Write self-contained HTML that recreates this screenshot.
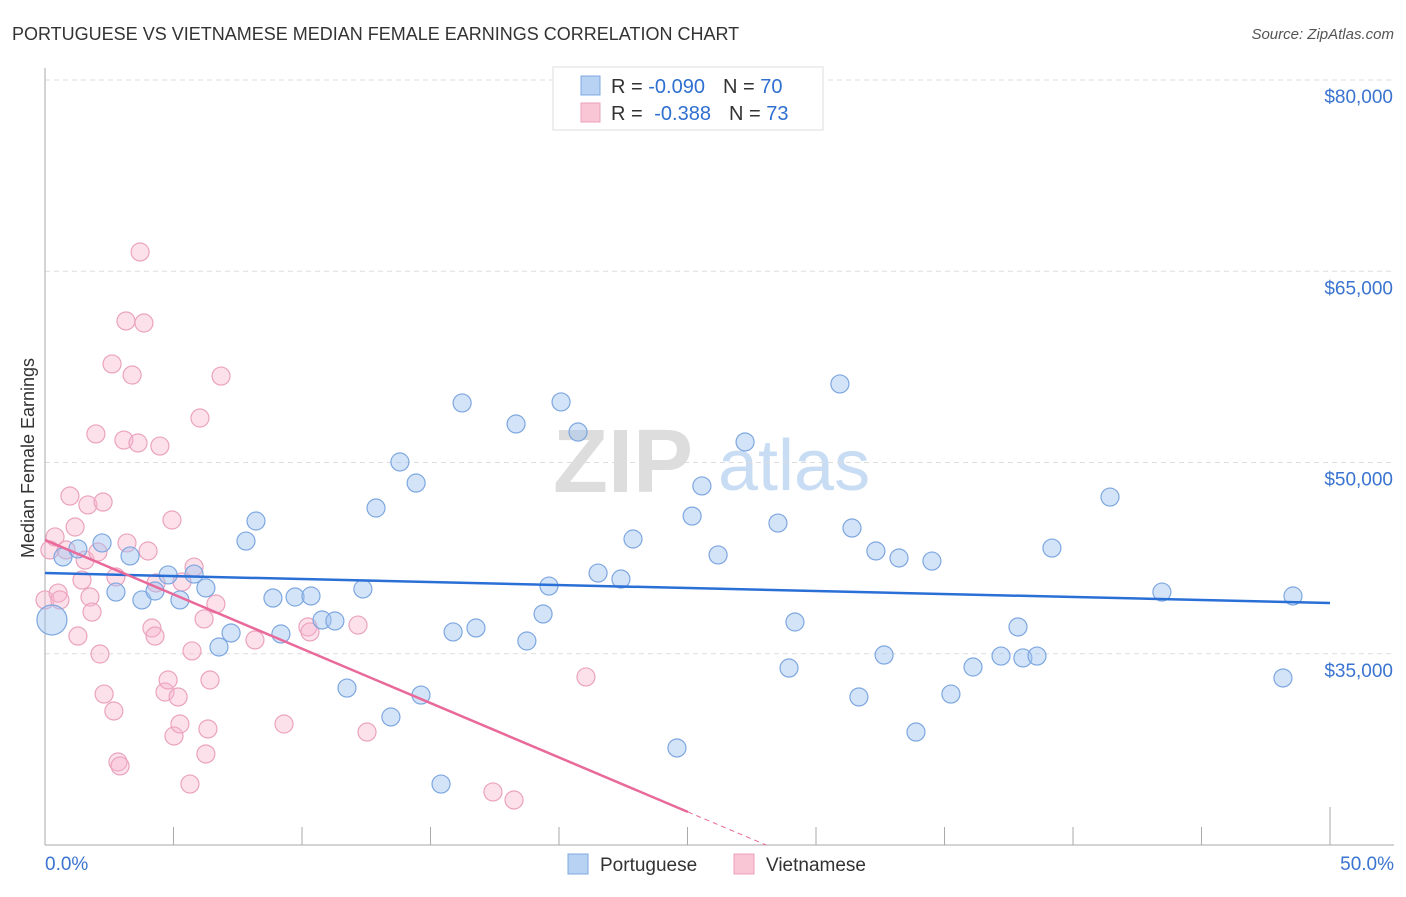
<!DOCTYPE html>
<html><head><meta charset="utf-8"><style>
body{margin:0;background:#fff;font-family:"Liberation Sans",sans-serif;}
svg text{font-family:"Liberation Sans",sans-serif;}
</style></head><body>
<svg id="chart" width="1406" height="892" xmlns="http://www.w3.org/2000/svg">
<text x="12" y="40" font-size="18" fill="#333">PORTUGUESE VS VIETNAMESE MEDIAN FEMALE EARNINGS CORRELATION CHART</text>
<text x="1394" y="39" font-size="15" fill="#555" text-anchor="end" font-style="italic">Source: ZipAtlas.com</text>
<g>
<text x="553" y="492" font-size="90" fill="#ddd" font-family="Liberation Serif" font-weight="bold">ZIP</text>
<text x="718" y="490" font-size="72" fill="#c8dcf4">atlas</text>
</g>
<g id="grid"></g><g id="axes"></g><g id="pts"></g><g id="trends"></g>
<text transform="translate(34,458) rotate(-90)" font-size="18" fill="#333" text-anchor="middle">Median Female Earnings</text>
<g>
<rect x="553" y="67" width="270" height="63" fill="#fff" stroke="#ddd"/>
<rect x="581" y="76" width="19" height="19" fill="#b8d2f4" stroke="#7fa8e0"/>
<rect x="581" y="103" width="19" height="19" fill="#f9c6d6" stroke="#eaa0bb"/>
<text x="611" y="93" font-size="20" fill="#333">R = <tspan fill="#2f6fd0">-0.090</tspan><tspan dx="18">N = </tspan><tspan fill="#2f6fd0">70</tspan></text>
<text x="611" y="120" font-size="20" fill="#333">R = <tspan dx="6" fill="#2f6fd0">-0.388</tspan><tspan dx="18">N = </tspan><tspan fill="#2f6fd0">73</tspan></text>
</g>
<g>
<rect x="568" y="854" width="20" height="20" fill="#b8d2f4" stroke="#7fa8e0"/>
<text x="600" y="871" font-size="19" fill="#333">Portuguese</text>
<rect x="734" y="854" width="20" height="20" fill="#f9c6d6" stroke="#eaa0bb"/>
<text x="766" y="871" font-size="19" fill="#333">Vietnamese</text>
</g>
</svg>
<script>
const yTicks=[35000,50000,65000,80000];
const yTickLabels=["$35,000","$50,000","$65,000","$80,000"];
const xTickLabels=["0.0%","50.0%"];
const portX=[0.27,0.70,1.28,2.22,2.76,3.31,3.77,4.28,4.79,5.25,5.80,6.26,6.77,7.24,7.82,8.21,8.87,9.18,9.73,10.35,10.78,11.28,11.75,12.37,12.88,13.46,13.81,14.44,14.63,15.41,15.88,16.23,16.77,18.33,18.75,19.38,19.61,20.08,20.74,21.52,22.41,22.88,24.59,25.18,25.56,26.19,27.24,28.52,28.95,29.18,30.93,31.4,31.67,32.33,32.65,33.23,33.89,34.51,35.25,36.11,37.2,37.86,38.05,38.6,39.18,41.44,43.46,48.17,48.56];
const portY=[37.65,42.59,43.22,43.69,39.84,42.67,39.22,39.92,41.18,39.22,41.25,40.16,35.53,36.63,43.84,45.41,39.37,36.55,39.45,39.53,37.65,37.57,32.31,40.08,46.43,30.04,50.04,48.39,31.76,24.78,36.71,54.67,37.02,53.02,36.0,38.12,40.31,54.75,52.39,41.33,40.86,44.0,27.61,45.8,48.16,42.75,51.61,45.25,33.88,37.49,56.16,44.86,31.61,43.06,34.9,42.51,28.86,42.27,31.84,33.96,34.82,37.1,34.67,34.82,43.29,47.29,39.84,33.1,39.53];
const vietX=[0,0.19,0.39,0.51,0.58,0.82,0.97,1.17,1.28,1.44,1.56,1.67,1.75,1.83,1.98,2.06,2.14,2.26,2.30,2.61,2.68,2.76,2.84,2.92,3.07,3.15,3.19,3.39,3.62,3.70,3.85,4.01,4.16,4.28,4.32,4.47,4.67,4.79,4.94,5.02,5.18,5.25,5.33,5.64,5.72,5.80,6.03,6.19,6.26,6.34,6.42,6.65,6.85,8.17,9.30,10.23,10.31,12.18,12.53,17.43,18.25,21.05];
const vietY=[39.22,43.14,44.16,39.76,39.22,43.14,47.37,44.94,36.39,40.78,42.35,46.67,39.45,38.27,52.24,42.98,34.98,46.9,31.84,57.73,30.51,41.02,26.51,26.2,51.76,61.1,43.69,56.86,51.53,66.51,60.94,43.06,37.02,36.39,40.55,51.29,32.0,32.94,45.49,28.55,31.61,29.49,40.63,24.78,35.22,41.8,53.49,37.73,27.14,29.1,32.94,38.9,56.78,36.08,29.49,37.1,36.71,37.25,28.86,24.16,23.53,33.18];
const portTrend=[41.33,38.98];
const vietTrend=[43.92,-0.8525];
const NS="http://www.w3.org/2000/svg";
const X=v=>45+v*25.7, Y=v=>845-(v-20000)*0.01275;
function mk(t,a,p){const e=document.createElementNS(NS,t);for(const k in a)e.setAttribute(k,a[k]);document.getElementById(p).appendChild(e);return e;}
yTicks.forEach((t,i)=>{
 const l=mk('line',{x1:45,x2:1394,y1:Y(t),y2:Y(t),stroke:'#ddd','stroke-dasharray':'5,4'},'grid');
 
 
 const tx=mk('text',{x:1393,y:Y(t)+23,'font-size':19,fill:'#3a74d0','text-anchor':'end'},'axes');
 tx.textContent=yTickLabels[i];
 
 
});
const ax=mk('line',{x1:45,x2:45,y1:68,y2:845,stroke:'#aaa'},'axes');


const bx=mk('line',{x1:45,x2:1394,y1:845,y2:845,stroke:'#aaa'},'axes');


for(let i=0;i<=10;i++){
 const tk=mk('line',{x1:X(i*5),x2:X(i*5),y1:i==10?807:827,y2:845,stroke:'#aaa'},'axes');
 
 
}
[[0,'start',45],[50,'end',1394]].forEach((d,i)=>{
 const tx=mk('text',{x:d[2],y:870,'font-size':19,fill:'#3a74d0','text-anchor':d[1]},'axes');
 tx.textContent=xTickLabels[i];
 
 
});
vietX.forEach((x,i)=>{
 const c=mk('circle',{cx:X(x),cy:Y(vietY[i]*1000),r:9,fill:'rgba(248,180,205,0.4)',stroke:'#eba3bd','stroke-width':1.2},'pts');
 
 
});
portX.forEach((x,i)=>{
 const c=mk('circle',{cx:X(x),cy:Y(portY[i]*1000),r:i==0?15:9,fill:'rgba(160,195,240,0.45)',stroke:'#7ea7e0','stroke-width':1.2},'pts');
 
 
});
const pl=mk('line',{x1:X(0),y1:Y(portTrend[0]*1000),x2:X(50),y2:Y(portTrend[1]*1000),stroke:'#2a6fd6','stroke-width':2.5},'trends');


const vEnd=25.02, vZero=(vietTrend[0]-20)/-vietTrend[1];
const vl=mk('line',{x1:X(0),y1:Y(vietTrend[0]*1000),x2:X(vEnd),y2:Y((vietTrend[0]+vietTrend[1]*vEnd)*1000),stroke:'#e8699a','stroke-width':2.5},'trends');


const vd=mk('line',{x1:X(vEnd),y1:Y((vietTrend[0]+vietTrend[1]*vEnd)*1000),x2:X(vZero),y2:Y(20000),stroke:'#e8699a','stroke-width':1,'stroke-dasharray':'5,4'},'trends');


</script>
</body></html>
